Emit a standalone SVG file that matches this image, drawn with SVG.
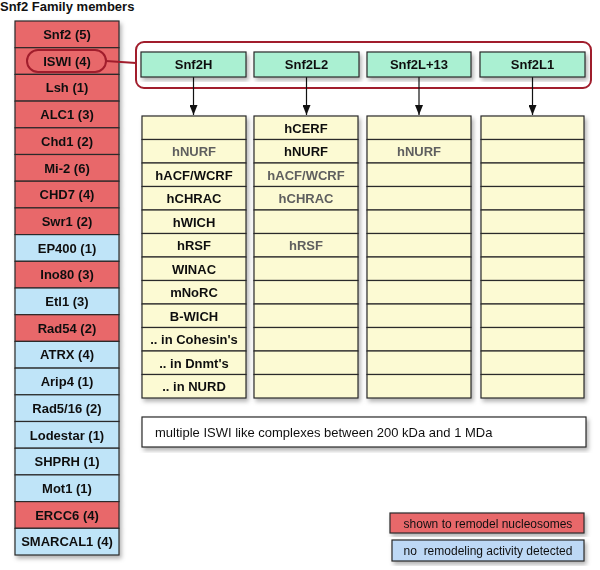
<svg xmlns="http://www.w3.org/2000/svg" width="600" height="570" viewBox="0 0 600 570">
<style>
text{font-family:"Liberation Sans",Arial,sans-serif;text-anchor:middle}
.b{font-weight:bold;font-size:13px;fill:#111}
.g{font-weight:bold;font-size:13px;fill:#5e5e5e}
.red{fill:#e8686b;stroke:#2a2a2a;stroke-width:1.2}
.blue{fill:#bfe4f8;stroke:#2a2a2a;stroke-width:1.2}
.grn{fill:#aaf0d2;stroke:#2a2a2a;stroke-width:1.2}
.yel{fill:#fcfad3;stroke:#2a2a2a;stroke-width:1.2}
.wht{fill:#fff;stroke:#2a2a2a;stroke-width:1.2}
.con{stroke:#111;stroke-width:1.2;fill:none}
.hl{stroke:#a11d2c;stroke-width:2;fill:none}
</style>
<defs>
<filter id="sh" x="-10%" y="-10%" width="130%" height="130%">
<feDropShadow dx="2" dy="3" stdDeviation="2" flood-color="#000" flood-opacity="0.3"/>
</filter>
<marker id="ah" markerWidth="10" markerHeight="8" refX="10" refY="4" orient="auto" markerUnits="userSpaceOnUse" viewBox="0 0 10 8">
<path d="M0,0 L10,4 L0,8 Z" fill="#111"/>
</marker>
</defs>
<rect width="600" height="570" fill="#fff"/>
<text x="0" y="11" class="b" style="text-anchor:start">Snf2 Family members</text>

<g id="family" filter="url(#sh)">
<g id="snf2"><rect x="15" y="21" width="104" height="26.7" class="red"/><text x="67" y="39" class="b">Snf2 (5)</text></g>
<g id="iswi"><rect x="15" y="47.7" width="104" height="26.7" class="red"/><text x="67" y="65.7" class="b">ISWI (4)</text></g>
<g id="lsh"><rect x="15" y="74.4" width="104" height="26.7" class="red"/><text x="67" y="92.4" class="b">Lsh (1)</text></g>
<g id="alc1"><rect x="15" y="101.1" width="104" height="26.7" class="red"/><text x="67" y="119.1" class="b">ALC1 (3)</text></g>
<g id="chd1"><rect x="15" y="127.8" width="104" height="26.7" class="red"/><text x="67" y="145.8" class="b">Chd1 (2)</text></g>
<g id="mi2"><rect x="15" y="154.5" width="104" height="26.7" class="red"/><text x="67" y="172.5" class="b">Mi-2 (6)</text></g>
<g id="chd7"><rect x="15" y="181.2" width="104" height="26.7" class="red"/><text x="67" y="199.2" class="b">CHD7 (4)</text></g>
<g id="swr1"><rect x="15" y="207.9" width="104" height="26.7" class="red"/><text x="67" y="225.9" class="b">Swr1 (2)</text></g>
<g id="ep400"><rect x="15" y="234.6" width="104" height="26.7" class="blue"/><text x="67" y="252.6" class="b">EP400 (1)</text></g>
<g id="ino80"><rect x="15" y="261.3" width="104" height="26.7" class="red"/><text x="67" y="279.3" class="b">Ino80 (3)</text></g>
<g id="etl1"><rect x="15" y="288" width="104" height="26.7" class="blue"/><text x="67" y="306" class="b">Etl1 (3)</text></g>
<g id="rad54"><rect x="15" y="314.7" width="104" height="26.7" class="red"/><text x="67" y="332.7" class="b">Rad54 (2)</text></g>
<g id="atrx"><rect x="15" y="341.4" width="104" height="26.7" class="blue"/><text x="67" y="359.4" class="b">ATRX (4)</text></g>
<g id="arip4"><rect x="15" y="368.1" width="104" height="26.7" class="blue"/><text x="67" y="386.1" class="b">Arip4 (1)</text></g>
<g id="rad516"><rect x="15" y="394.8" width="104" height="26.7" class="blue"/><text x="67" y="412.8" class="b">Rad5/16 (2)</text></g>
<g id="lodestar"><rect x="15" y="421.5" width="104" height="26.7" class="blue"/><text x="67" y="439.5" class="b">Lodestar (1)</text></g>
<g id="shprh"><rect x="15" y="448.2" width="104" height="26.7" class="blue"/><text x="67" y="466.2" class="b">SHPRH (1)</text></g>
<g id="mot1"><rect x="15" y="474.9" width="104" height="26.7" class="blue"/><text x="67" y="492.9" class="b">Mot1 (1)</text></g>
<g id="ercc6"><rect x="15" y="501.6" width="104" height="26.7" class="red"/><text x="67" y="519.6" class="b">ERCC6 (4)</text></g>
<g id="smarcal1"><rect x="15" y="528.3" width="104" height="26.7" class="blue"/><text x="67" y="546.3" class="b">SMARCAL1 (4)</text></g>
</g>

<g id="iswi-highlight">
<rect x="27" y="50" width="79" height="22" rx="11" class="hl"/>
<rect x="136" y="42" width="455" height="46" rx="8" class="hl"/>
</g>

<g id="connectors">
<line x1="106" y1="61" x2="136" y2="63" class="hl"/>
<line x1="193.5" y1="77" x2="193.5" y2="115" class="con" marker-end="url(#ah)"/>
<line x1="306.5" y1="77" x2="306.5" y2="115" class="con" marker-end="url(#ah)"/>
<line x1="419" y1="77" x2="419" y2="115" class="con" marker-end="url(#ah)"/>
<line x1="532.5" y1="77" x2="532.5" y2="115" class="con" marker-end="url(#ah)"/>
</g>

<g id="snf2h" filter="url(#sh)"><rect x="141" y="52" width="105" height="25" class="grn"/><text x="193.5" y="69" class="b">Snf2H</text></g>
<g id="snf2l2" filter="url(#sh)"><rect x="254" y="52" width="105" height="25" class="grn"/><text x="306.5" y="69" class="b">Snf2L2</text></g>
<g id="snf2l13" filter="url(#sh)"><rect x="367" y="52" width="104" height="25" class="grn"/><text x="419" y="69" class="b">Snf2L+13</text></g>
<g id="snf2l1" filter="url(#sh)"><rect x="480" y="52" width="105" height="25" class="grn"/><text x="532.5" y="69" class="b">Snf2L1</text></g>

<g id="col-snf2h" filter="url(#sh)">
<rect x="142" y="116" width="104" height="23.5" class="yel"/>
<rect x="142" y="139.5" width="104" height="23.5" class="yel"/>
<rect x="142" y="163" width="104" height="23.5" class="yel"/>
<rect x="142" y="186.5" width="104" height="23.5" class="yel"/>
<rect x="142" y="210" width="104" height="23.5" class="yel"/>
<rect x="142" y="233.5" width="104" height="23.5" class="yel"/>
<rect x="142" y="257" width="104" height="23.5" class="yel"/>
<rect x="142" y="280.5" width="104" height="23.5" class="yel"/>
<rect x="142" y="304" width="104" height="23.5" class="yel"/>
<rect x="142" y="327.5" width="104" height="23.5" class="yel"/>
<rect x="142" y="351" width="104" height="23.5" class="yel"/>
<rect x="142" y="374.5" width="104" height="23.5" class="yel"/>
<text x="194" y="156" class="g">hNURF</text>
<text x="194" y="179.5" class="b">hACF/WCRF</text>
<text x="194" y="203" class="b">hCHRAC</text>
<text x="194" y="226.5" class="b">hWICH</text>
<text x="194" y="250" class="b">hRSF</text>
<text x="194" y="273.5" class="b">WINAC</text>
<text x="194" y="297" class="b">mNoRC</text>
<text x="194" y="320.5" class="b">B-WICH</text>
<text x="194" y="344" class="b">.. in Cohesin's</text>
<text x="194" y="367.5" class="b">.. in Dnmt's</text>
<text x="194" y="391" class="b">.. in NURD</text>
</g>

<g id="col-snf2l2" filter="url(#sh)">
<rect x="254" y="116" width="104" height="23.5" class="yel"/>
<rect x="254" y="139.5" width="104" height="23.5" class="yel"/>
<rect x="254" y="163" width="104" height="23.5" class="yel"/>
<rect x="254" y="186.5" width="104" height="23.5" class="yel"/>
<rect x="254" y="210" width="104" height="23.5" class="yel"/>
<rect x="254" y="233.5" width="104" height="23.5" class="yel"/>
<rect x="254" y="257" width="104" height="23.5" class="yel"/>
<rect x="254" y="280.5" width="104" height="23.5" class="yel"/>
<rect x="254" y="304" width="104" height="23.5" class="yel"/>
<rect x="254" y="327.5" width="104" height="23.5" class="yel"/>
<rect x="254" y="351" width="104" height="23.5" class="yel"/>
<rect x="254" y="374.5" width="104" height="23.5" class="yel"/>
<text x="306" y="132.5" class="b">hCERF</text>
<text x="306" y="156" class="b">hNURF</text>
<text x="306" y="179.5" class="g">hACF/WCRF</text>
<text x="306" y="203" class="g">hCHRAC</text>
<text x="306" y="250" class="g">hRSF</text>
</g>

<g id="col-snf2l13" filter="url(#sh)">
<rect x="367" y="116" width="104" height="23.5" class="yel"/>
<rect x="367" y="139.5" width="104" height="23.5" class="yel"/>
<rect x="367" y="163" width="104" height="23.5" class="yel"/>
<rect x="367" y="186.5" width="104" height="23.5" class="yel"/>
<rect x="367" y="210" width="104" height="23.5" class="yel"/>
<rect x="367" y="233.5" width="104" height="23.5" class="yel"/>
<rect x="367" y="257" width="104" height="23.5" class="yel"/>
<rect x="367" y="280.5" width="104" height="23.5" class="yel"/>
<rect x="367" y="304" width="104" height="23.5" class="yel"/>
<rect x="367" y="327.5" width="104" height="23.5" class="yel"/>
<rect x="367" y="351" width="104" height="23.5" class="yel"/>
<rect x="367" y="374.5" width="104" height="23.5" class="yel"/>
<text x="419" y="156" class="g">hNURF</text>
</g>

<g id="col-snf2l1" filter="url(#sh)">
<rect x="481" y="116" width="103" height="23.5" class="yel"/>
<rect x="481" y="139.5" width="103" height="23.5" class="yel"/>
<rect x="481" y="163" width="103" height="23.5" class="yel"/>
<rect x="481" y="186.5" width="103" height="23.5" class="yel"/>
<rect x="481" y="210" width="103" height="23.5" class="yel"/>
<rect x="481" y="233.5" width="103" height="23.5" class="yel"/>
<rect x="481" y="257" width="103" height="23.5" class="yel"/>
<rect x="481" y="280.5" width="103" height="23.5" class="yel"/>
<rect x="481" y="304" width="103" height="23.5" class="yel"/>
<rect x="481" y="327.5" width="103" height="23.5" class="yel"/>
<rect x="481" y="351" width="103" height="23.5" class="yel"/>
<rect x="481" y="374.5" width="103" height="23.5" class="yel"/>
</g>

<g id="note" filter="url(#sh)">
<rect x="142" y="417" width="444" height="30" class="wht"/>
<text x="155" y="436.5" style="text-anchor:start;font-size:13px;fill:#111">multiple ISWI like complexes between 200 kDa and 1 MDa</text>
</g>

<g id="legend-red" filter="url(#sh)">
<rect x="390" y="513" width="194" height="20" class="red"/>
<text x="488" y="527.5" style="font-size:12px;fill:#111">shown to remodel nucleosomes</text>
</g>
<g id="legend-blue" filter="url(#sh)">
<rect x="392" y="540" width="192" height="21" class="blue" style="fill:#bdd8f5"/>
<text x="488" y="555" style="font-size:12px;fill:#111;white-space:pre" xml:space="preserve">no  remodeling activity detected</text>
</g>
</svg>
